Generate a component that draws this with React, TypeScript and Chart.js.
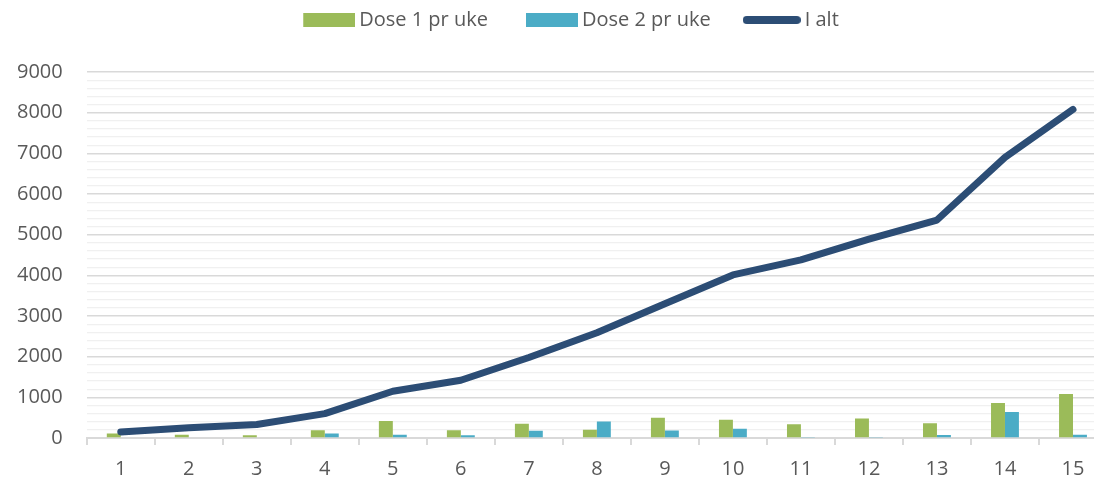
import React, { useEffect, useRef } from "react";
import { Chart, registerables } from "chart.js";

Chart.register(...registerables);

const categories = ["1", "2", "3", "4", "5", "6", "7", "8", "9", "10", "11", "12", "13", "14", "15"];
const dose1 = [110, 80, 65, 190, 420, 190, 350, 200, 500, 450, 340, 480, 365, 860, 1080];
const dose2 = [0, 0, 0, 110, 80, 70, 180, 405, 185, 230, 10, 10, 75, 640, 80];
const total = [150, 250, 330, 600, 1150, 1420, 1980, 2590, 3300, 4010, 4380, 4890, 5360, 6900, 8080];
const seriesNames = ["Dose 1 pr uke", "Dose 2 pr uke", "I alt"];

const GREEN = "#9BBB59";
const BLUE = "#4BACC6";
const NAVY = "#2C4D75";
const TEXT = "#595959";

function rectIcon(color: string) {
  const c = document.createElement("canvas");
  c.width = 58;
  c.height = 14;
  const g = c.getContext("2d")!;
  g.fillStyle = color;
  g.fillRect(6, 0, 52, 14);
  return c;
}

function lineIcon(color: string) {
  const c = document.createElement("canvas");
  c.width = 58;
  c.height = 10;
  const g = c.getContext("2d")!;
  g.strokeStyle = color;
  g.lineWidth = 8;
  g.lineCap = "round";
  g.beginPath();
  g.moveTo(4, 5);
  g.lineTo(54, 5);
  g.stroke();
  return c;
}

const legendTweak = {
  id: "legendTweak",
  beforeInit(chart: any) {
    const lg = chart.legend;
    if (lg && !lg.__patched) {
      const orig = lg.fit.bind(lg);
      lg.fit = function () {
        orig();
        this.height = 72;
      };
      lg.__patched = true;
    }
  },
  afterLayout(chart: any) {
    const lg = chart.legend;
    if (lg) {
      lg.left += 21;
      lg.right += 21;
      lg.top -= 28;
      lg.bottom -= 28;
    }
  },
};

export default function App() {
  const ref = useRef<HTMLCanvasElement | null>(null);
  useEffect(() => {
    if (!ref.current) return;
    const icons = [rectIcon(GREEN), rectIcon(BLUE), lineIcon(NAVY)];
    const chart = new Chart(ref.current, {
      type: "bar",
      data: {
        labels: categories,
        datasets: [
          {
            type: "bar",
            label: seriesNames[0],
            data: dose1,
            backgroundColor: GREEN,
            borderWidth: 0,
            order: 1,
          } as any,
          {
            type: "bar",
            label: seriesNames[1],
            data: dose2,
            backgroundColor: BLUE,
            borderWidth: 0,
            order: 2,
          } as any,
          {
            type: "line",
            label: seriesNames[2],
            data: total,
            borderColor: NAVY,
            backgroundColor: NAVY,
            borderWidth: 7,
            borderCapStyle: "round",
            borderJoinStyle: "round",
            pointRadius: 0,
            order: 0,
            tension: 0,
          } as any,
        ],
      },
      options: {
        animation: false,
        responsive: false,
        maintainAspectRatio: false,
        layout: { padding: { left: 1, right: 1, top: 0, bottom: 0 } },
        datasets: {
          bar: { barPercentage: 1, categoryPercentage: 0.41 },
        } as any,
        plugins: {
          tooltip: { enabled: false },
          legend: {
            position: "top",
            labels: {
              usePointStyle: true,
              pointStyleWidth: 46,
              boxHeight: 14,
              color: TEXT,
              font: { family: "'Open Sans'", size: 20 },
              padding: 38,
              sort: (a: any, b: any) => a.datasetIndex - b.datasetIndex,
              generateLabels: (chart: any) => {
                const items = Chart.defaults.plugins.legend.labels.generateLabels(chart);
                return items.map((it: any) => {
                  it.pointStyle = icons[it.datasetIndex];
                  it.lineWidth = 0;
                  return it;
                });
              },
            },
          },
        },
        scales: {
          x: {
            offset: true,
            grid: {
              offset: true,
              drawOnChartArea: false,
              drawTicks: true,
              tickLength: 7,
              color: "#D9D9D9",
              lineWidth: 2,
            },
            border: { color: "#D9D9D9", width: 2 },
            ticks: {
              color: TEXT,
              font: { family: "'Open Sans'", size: 20 },
              padding: 12,
              maxRotation: 0,
            },
          },
          y: {
            min: 0,
            max: 9000,
            border: { display: false },
            grid: {
              drawTicks: false,
              color: (ctx: any) => (ctx.tick && ctx.tick.value % 1000 === 0 ? "#D9D9D9" : "#F0F0F0"),
              lineWidth: (ctx: any) => (ctx.tick && ctx.tick.value % 1000 === 0 ? 1.5 : 1.2),
            },
            ticks: {
              stepSize: 200,
              autoSkip: false,
              color: TEXT,
              font: { family: "'Open Sans'", size: 20 },
              padding: 24,
              callback: (v: any) => (Number(v) % 1000 === 0 ? String(v) : ""),
            },
          },
        },
      },
      plugins: [legendTweak],
    });
    return () => chart.destroy();
  }, []);
  return (
    <div style={{ position: "fixed", left: 0, top: 0, width: 1094, height: 479, overflow: "hidden", background: "#fff" }}>
      <canvas
        ref={ref}
        width={1116}
        height={493}
        style={{ position: "absolute", left: -8, top: 0, width: 1116, height: 493, display: "block" }}
      />
    </div>
  );
}
